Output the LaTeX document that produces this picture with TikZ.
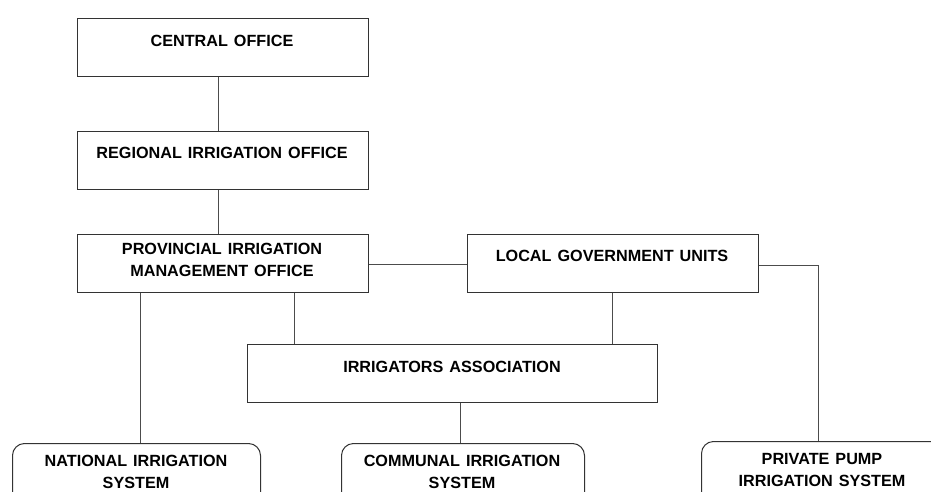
\documentclass[tikz,border=0pt]{standalone}
\usepackage{fontspec}
\setmainfont{Liberation Sans}
\newcommand\mywsp{\spaceskip=6pt plus 1pt minus 1pt\relax}
\begin{document}
\begin{tikzpicture}[x=1pt,y=-1pt,
  box/.style={draw=black!80,line width=1pt,inner sep=0pt,fill=white},
  rbox/.style={box,rounded corners=12pt},
  txt/.style={font={\bfseries\fontsize{16.2}{22}\selectfont\mywsp},align=center,inner sep=0pt,text=black},
  conn/.style={draw=black!70,line width=1pt}]
\clip (0,0) rectangle (931,492);
\fill[white] (0,0) rectangle (931,492);
% boxes
\node[box,minimum width=291pt,minimum height=58pt,anchor=north west] (co) at (77,18) {};
\node[box,minimum width=291pt,minimum height=58pt,anchor=north west] (ro) at (77,131) {};
\node[box,minimum width=291pt,minimum height=58pt,anchor=north west] (pim) at (77,234) {};
\node[box,minimum width=291pt,minimum height=58pt,anchor=north west] (lgu) at (467,234) {};
\node[box,minimum width=410pt,minimum height=58pt,anchor=north west] (ia) at (247,344) {};
\node[rbox,minimum width=248pt,minimum height=100pt,anchor=north west] (nis) at (12,443) {};
\node[rbox,minimum width=243pt,minimum height=100pt,anchor=north west] (cis) at (341,443) {};
\node[rbox,minimum width=250pt,minimum height=100pt,anchor=north west] (ppis) at (701,441) {};
% texts
\node[txt] (coT) at (222,40.5) {CENTRAL OFFICE};
\node[txt] (roT) at (222,152.5) {REGIONAL IRRIGATION OFFICE};
\node[txt] (pimT) at (222,259.5) {PROVINCIAL IRRIGATION\\MANAGEMENT OFFICE};
\node[txt] (lguT) at (612,255.5) {LOCAL GOVERNMENT UNITS};
\node[txt] (iaT) at (452,366.5) {IRRIGATORS ASSOCIATION};
\node[txt] (nisT) at (136,472) {NATIONAL IRRIGATION\\SYSTEM};
\node[txt] (cisT) at (462,472) {COMMUNAL IRRIGATION\\SYSTEM};
\node[txt] (ppisT) at (822,470) {PRIVATE PUMP\\IRRIGATION SYSTEM};
% connectors
\coordinate (lguR) at (818,265);
\draw[conn] (co.south -| 218,0) -- (ro.north -| 218,0);
\draw[conn] (ro.south -| 218,0) -- (pim.north -| 218,0);
\draw[conn] (pim.east |- 0,264) -- (lgu.west |- 0,264);
\draw[conn] (lgu.east |- lguR) -- (lguR) -- (ppis.north -| lguR);
\draw[conn] (pim.south -| 140,0) -- (nis.north -| 140,0);
\draw[conn] (pim.south -| 294,0) -- (ia.north -| 294,0);
\draw[conn] (lgu.south -| 612,0) -- (ia.north -| 612,0);
\draw[conn] (ia.south -| 460,0) -- (cis.north -| 460,0);
\end{tikzpicture}
\end{document}
